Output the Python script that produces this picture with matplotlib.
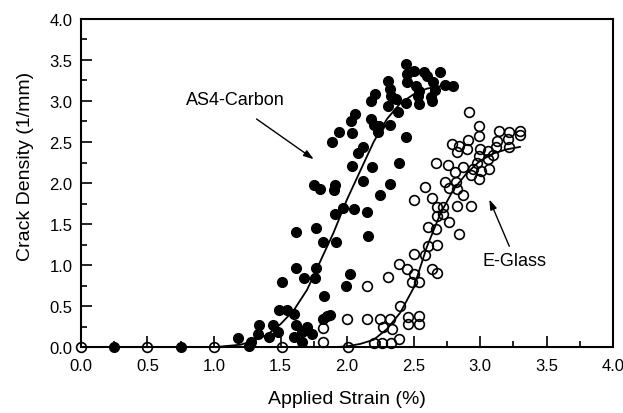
import numpy as np
import matplotlib
matplotlib.use("Agg")
import matplotlib.pyplot as plt
from matplotlib.ticker import MultipleLocator, FormatStrFormatter

# AS4-Carbon (filled circles)
carbon_x = [0.25, 0.75, 1.18, 1.26, 1.28, 1.33, 1.34, 1.41, 1.44, 1.48, 1.49, 1.55,
            1.51, 1.60, 1.62, 1.60, 1.66, 1.70, 1.74, 1.66, 1.62, 1.62, 1.68, 1.77,
            1.77, 1.76, 1.82, 1.83, 1.85, 1.82, 1.87, 1.91, 1.97, 2.05, 2.15, 2.16,
            1.92, 2.02, 1.99, 1.75, 1.80, 1.91, 1.90, 2.04, 2.19, 2.12, 2.25, 1.94,
            2.04, 1.89, 2.08, 2.12, 2.03, 2.06, 2.18, 2.20, 2.24, 2.23, 2.32, 2.18,
            2.21, 2.31, 2.38, 2.33, 2.37, 2.44, 2.31, 2.32, 2.44, 2.45, 2.50, 2.58,
            2.60, 2.70, 2.45, 2.52, 2.54, 2.65, 2.74, 2.80, 2.66, 2.63, 2.53, 2.54,
            2.64, 2.44, 2.39, 2.32]
carbon_y = [0.00, 0.00, 0.11, 0.01, 0.06, 0.16, 0.27, 0.12, 0.27, 0.18, 0.45, 0.45,
            0.79, 0.40, 0.27, 0.12, 0.18, 0.24, 0.16, 0.06, 1.40, 0.96, 0.84, 1.45,
            0.96, 0.84, 1.28, 0.62, 0.38, 0.34, 0.39, 1.62, 1.69, 1.68, 1.65, 1.36,
            1.28, 0.89, 0.74, 1.97, 1.93, 1.97, 1.92, 2.21, 2.19, 2.03, 1.85, 2.62,
            2.61, 2.50, 2.37, 2.44, 2.76, 2.84, 2.78, 2.71, 2.69, 2.62, 2.71, 3.00,
            3.08, 2.94, 2.87, 3.06, 3.02, 2.98, 3.24, 3.15, 3.45, 3.33, 3.36, 3.35,
            3.30, 3.35, 3.23, 3.18, 3.12, 3.23, 3.19, 3.18, 3.13, 3.05, 3.06, 2.96,
            3.00, 2.56, 2.25, 1.99]

# E-Glass (open circles)
glass_x = [0.00, 0.50, 1.00, 1.51, 2.01, 1.82, 1.82, 2.00, 2.15, 2.20, 2.26, 2.33,
           2.39, 2.25, 2.32, 2.27, 2.34, 2.40, 2.46, 2.46, 2.54, 2.54, 2.15, 2.31,
           2.39, 2.45, 2.50, 2.49, 2.54, 2.64, 2.68, 2.50, 2.59, 2.61, 2.68, 2.61,
           2.67, 2.77, 2.68, 2.84, 2.72, 2.68, 2.72, 2.83, 2.93, 2.50, 2.64, 2.87,
           2.59, 2.77, 2.83, 2.74, 2.82, 2.93, 2.99, 2.81, 2.67, 2.76, 2.87, 2.95,
           3.01, 3.07, 2.98, 3.06, 2.99, 3.10, 3.00, 3.06, 2.83, 2.90, 2.79, 2.84,
           2.91, 3.12, 3.22, 3.13, 3.21, 2.99, 2.99, 2.92, 3.14, 3.22, 3.30, 3.30]
glass_y = [0.00, 0.00, 0.00, 0.00, 0.00, 0.06, 0.23, 0.34, 0.34, 0.05, 0.05, 0.05,
           0.10, 0.34, 0.34, 0.24, 0.22, 0.50, 0.37, 0.28, 0.38, 0.28, 0.74, 0.86,
           1.01, 0.95, 0.89, 0.79, 0.80, 0.95, 0.90, 1.13, 1.12, 1.23, 1.25, 1.46,
           1.44, 1.52, 1.60, 1.38, 1.62, 1.71, 1.71, 1.72, 1.72, 1.79, 1.82, 1.85,
           1.95, 1.94, 1.93, 2.01, 2.01, 2.10, 2.05, 2.13, 2.24, 2.22, 2.19, 2.17,
           2.15, 2.17, 2.25, 2.29, 2.33, 2.34, 2.41, 2.39, 2.38, 2.41, 2.48, 2.45,
           2.52, 2.44, 2.44, 2.51, 2.54, 2.57, 2.70, 2.86, 2.63, 2.62, 2.63, 2.59]

# fitted curves
carbon_fit_x = [1.0, 1.2, 1.3, 1.4, 1.5, 1.6, 1.7, 1.8, 1.9, 2.0, 2.1, 2.2, 2.3,
                2.4, 2.5, 2.6, 2.7, 2.8]
carbon_fit_y = [0.00, 0.03, 0.08, 0.15, 0.28, 0.45, 0.70, 1.05, 1.40, 1.80, 2.15,
                2.50, 2.78, 2.97, 3.08, 3.15, 3.18, 3.20]
glass_fit_x = [1.9, 2.0, 2.1, 2.2, 2.3, 2.4, 2.5, 2.6, 2.7, 2.8, 2.9, 3.0, 3.1,
               3.2, 3.3]
glass_fit_y = [0.00, 0.01, 0.04, 0.09, 0.22, 0.42, 0.72, 1.22, 1.62, 1.92, 2.12,
               2.27, 2.36, 2.41, 2.44]

plt.rcParams["font.family"] = ["Liberation Sans", "DejaVu Sans"]

fig = plt.figure(figsize=(6.23, 4.14), dpi=100)
ax = fig.add_axes([0.130, 0.159, 0.854, 0.793])

ax.plot(carbon_fit_x, carbon_fit_y, color="black", lw=1.3, zorder=2)
ax.plot(glass_fit_x, glass_fit_y, color="black", lw=1.3, zorder=2)
ax.plot(carbon_x, carbon_y, "o", ms=7, color="black", zorder=3, clip_on=False)
ax.plot(glass_x, glass_y, "o", ms=7, mfc="none", mec="black", mew=1.2,
        zorder=3, clip_on=False)

# labels and arrows
arrow = dict(arrowstyle="-|>,head_length=0.6,head_width=0.2", color="black",
             lw=1.0, shrinkA=0, shrinkB=0)
ax.text(1.16, 3.02, "AS4-Carbon", ha="center", va="center", fontsize=13)
ax.annotate("", xy=(1.75, 2.29), xytext=(1.32, 2.78), arrowprops=arrow)
ax.text(3.26, 1.05, "E-Glass", ha="center", va="center", fontsize=13)
ax.annotate("", xy=(3.07, 1.80), xytext=(3.22, 1.23), arrowprops=arrow)

ax.set_xlim(0, 4.0)
ax.set_ylim(0, 4.0)
ax.xaxis.set_major_locator(MultipleLocator(0.5))
ax.xaxis.set_minor_locator(MultipleLocator(0.25))
ax.yaxis.set_major_locator(MultipleLocator(0.5))
ax.yaxis.set_minor_locator(MultipleLocator(0.25))
ax.xaxis.set_major_formatter(FormatStrFormatter("%.1f"))
ax.yaxis.set_major_formatter(FormatStrFormatter("%.1f"))
ax.tick_params(which="both", direction="in", top=False, right=False,
               labelsize=12, width=1.2)
ax.tick_params(which="major", length=8)
ax.tick_params(axis="x", which="major", pad=8)
ax.tick_params(axis="y", which="major", pad=6)
ax.tick_params(which="minor", length=4)
for s in ax.spines.values():
    s.set_linewidth(1.5)

ax.set_xlabel("Applied Strain (%)", fontsize=14, labelpad=12)
ax.set_ylabel("Crack Density (1/mm)", fontsize=14)
ax.yaxis.set_label_coords(-0.088, 0.555)

fig.savefig("out.png", dpi=100)
